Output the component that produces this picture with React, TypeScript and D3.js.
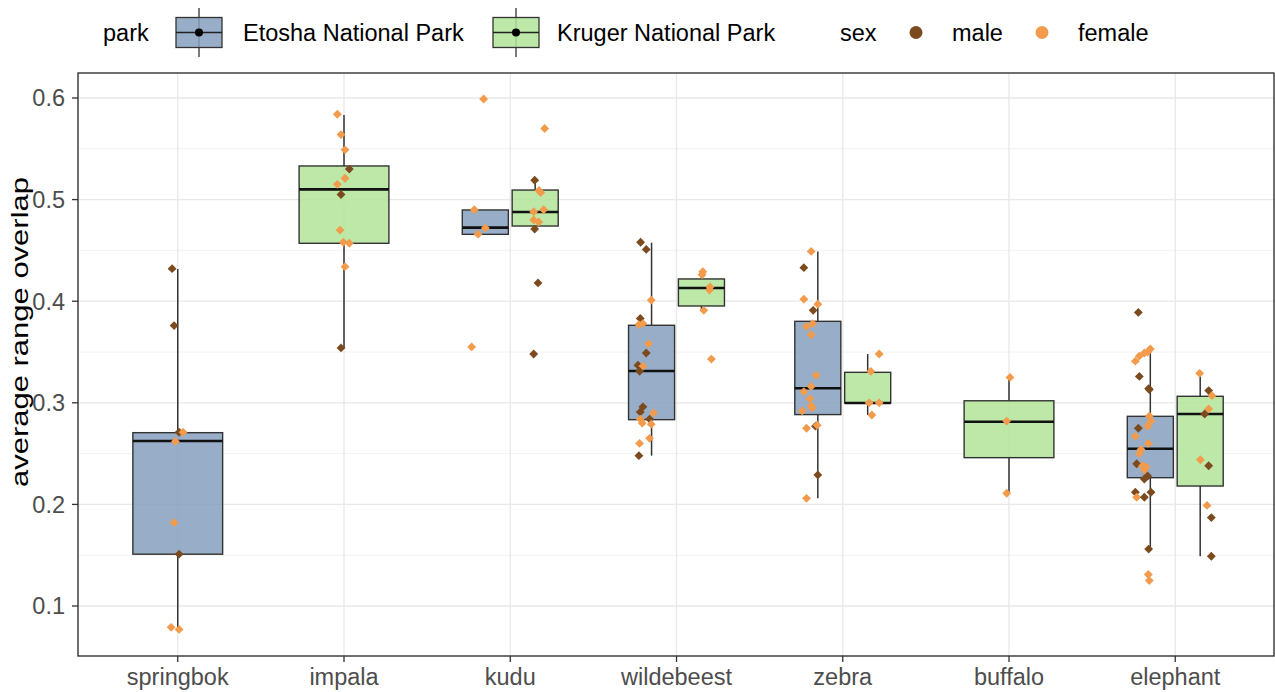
import React, { useEffect, useRef } from 'react';
import * as d3 from 'd3';

const species = ['springbok', 'impala', 'kudu', 'wildebeest', 'zebra', 'buffalo', 'elephant'];
const parks = ['Etosha National Park', 'Kruger National Park'];
const sexes = ['male', 'female'];
const yTicks = [0.1, 0.2, 0.3, 0.4, 0.5, 0.6];

// box summaries (park: 0 = Etosha, 1 = Kruger)
const boxSpecies = ['springbok', 'impala', 'kudu', 'kudu', 'wildebeest', 'wildebeest', 'zebra', 'zebra', 'buffalo', 'elephant', 'elephant'];
const boxPark = [0, 1, 0, 1, 0, 1, 0, 1, 1, 0, 1];
const boxLow = [0.077, 0.354, 0.4658, 0.471, 0.248, 0.391, 0.206, 0.288, 0.211, 0.156, 0.149];
const boxQ1 = [0.151, 0.457, 0.4658, 0.474, 0.2834, 0.3953, 0.2884, 0.2998, 0.246, 0.2263, 0.2181];
const boxMed = [0.2624, 0.5101, 0.4724, 0.4878, 0.3313, 0.413, 0.3143, 0.2998, 0.2814, 0.2548, 0.289];
const boxQ3 = [0.2706, 0.5331, 0.4898, 0.5094, 0.3763, 0.4219, 0.3802, 0.33, 0.302, 0.2867, 0.3064];
const boxHigh = [0.4317, 0.5833, 0.4898, 0.5193, 0.4576, 0.428, 0.4488, 0.348, 0.325, 0.352, 0.329];

// individual animals: [overlap, sex (0 male / 1 female), jitter in category steps]
type Pt = [number, number, number];
const springbokEtosha: Pt[] = [
  [0.432, 0, -0.034], [0.376, 0, -0.022], [0.271, 0, 0.008], [0.271, 1, 0.032], [0.262, 1, -0.014],
  [0.182, 1, -0.022], [0.151, 0, 0.008], [0.079, 1, -0.04], [0.077, 1, 0.008],
];
const impalaKruger: Pt[] = [
  [0.584, 1, -0.04], [0.564, 1, -0.018], [0.549, 1, 0.006], [0.530, 0, 0.032], [0.521, 1, 0.006],
  [0.515, 1, -0.04], [0.505, 0, -0.018], [0.470, 1, -0.024], [0.458, 1, -0.004], [0.457, 1, 0.032],
  [0.434, 1, 0.006], [0.354, 0, -0.018],
];
const kuduEtosha: Pt[] = [
  [0.599, 1, -0.01], [0.490, 1, -0.066], [0.472, 1, 0], [0.466, 1, -0.044], [0.355, 1, -0.082],
];
const kuduKruger: Pt[] = [
  [0.570, 1, 0.057], [0.519, 0, -0.003], [0.509, 1, 0.023], [0.507, 1, 0.033], [0.488, 1, -0.009],
  [0.490, 1, 0.051], [0.480, 1, -0.009], [0.478, 1, 0.021], [0.471, 0, -0.003], [0.418, 0, 0.017],
  [0.348, 0, -0.009],
];
const wildebeestEtosha: Pt[] = [
  [0.458, 0, -0.066], [0.451, 0, -0.032], [0.401, 1, -0.002], [0.383, 0, -0.068], [0.377, 1, -0.076],
  [0.378, 1, -0.052], [0.358, 1, -0.018], [0.349, 0, -0.032], [0.337, 0, -0.082], [0.336, 1, -0.052],
  [0.331, 0, -0.072], [0.296, 0, -0.052], [0.291, 0, -0.068], [0.290, 1, 0.012], [0.284, 1, -0.068],
  [0.284, 0, -0.012], [0.280, 1, -0.056], [0.279, 1, -0.002], [0.260, 1, -0.072], [0.265, 1, -0.012],
  [0.248, 0, -0.076],
];
const wildebeestKruger: Pt[] = [
  [0.429, 1, 0.008], [0.426, 1, 0.004], [0.414, 1, 0.052], [0.411, 1, 0.048], [0.391, 1, 0.014],
  [0.343, 1, 0.06],
];
const zebraEtosha: Pt[] = [
  [0.449, 1, -0.04], [0.433, 0, -0.084], [0.402, 1, -0.084], [0.397, 1, 0], [0.391, 0, -0.028],
  [0.378, 1, -0.03], [0.375, 1, -0.068], [0.367, 1, -0.04], [0.327, 1, -0.01], [0.316, 1, -0.04],
  [0.311, 1, -0.084], [0.304, 1, -0.048], [0.297, 1, -0.04], [0.295, 1, -0.034], [0.292, 1, -0.094],
  [0.275, 1, -0.068], [0.277, 0, -0.014], [0.278, 1, -0.004], [0.229, 0, 0], [0.206, 1, -0.068],
];
const zebraKruger: Pt[] = [
  [0.348, 1, 0.069], [0.331, 1, 0.019], [0.300, 1, 0.009], [0.300, 1, 0.069], [0.288, 1, 0.025],
];
const buffaloKruger: Pt[] = [
  [0.325, 1, 0.006], [0.282, 1, -0.014], [0.211, 1, -0.014],
];
const elephantEtosha: Pt[] = [
  [0.389, 0, -0.072], [0.353, 1, 0], [0.350, 1, -0.016], [0.349, 1, -0.036], [0.346, 1, -0.066],
  [0.341, 1, -0.09], [0.326, 0, -0.066], [0.314, 0, -0.01], [0.313, 0, -0.006], [0.287, 1, -0.006],
  [0.282, 1, 0.004], [0.277, 1, -0.016], [0.275, 0, -0.072], [0.267, 1, -0.09], [0.260, 1, -0.012],
  [0.254, 1, -0.056], [0.250, 1, -0.066], [0.240, 0, -0.082], [0.238, 1, -0.046], [0.237, 1, -0.026],
  [0.234, 1, -0.036], [0.228, 0, -0.016], [0.225, 0, -0.036], [0.212, 0, -0.09], [0.207, 1, -0.082],
  [0.207, 0, -0.036], [0.212, 0, 0.004], [0.156, 0, -0.01], [0.131, 1, -0.012], [0.125, 1, -0.006],
];
const elephantKruger: Pt[] = [
  [0.329, 1, -0.003], [0.312, 0, 0.051], [0.307, 1, 0.071], [0.294, 1, 0.051], [0.289, 0, 0.027],
  [0.244, 1, 0.001], [0.238, 0, 0.051], [0.199, 1, 0.041], [0.187, 0, 0.067], [0.149, 0, 0.067],
];

const pointGroups: { sp: string; park: number; pts: Pt[] }[] = [
  { sp: 'springbok', park: 0, pts: springbokEtosha },
  { sp: 'impala', park: 1, pts: impalaKruger },
  { sp: 'kudu', park: 0, pts: kuduEtosha },
  { sp: 'kudu', park: 1, pts: kuduKruger },
  { sp: 'wildebeest', park: 0, pts: wildebeestEtosha },
  { sp: 'wildebeest', park: 1, pts: wildebeestKruger },
  { sp: 'zebra', park: 0, pts: zebraEtosha },
  { sp: 'zebra', park: 1, pts: zebraKruger },
  { sp: 'buffalo', park: 1, pts: buffaloKruger },
  { sp: 'elephant', park: 0, pts: elephantEtosha },
  { sp: 'elephant', park: 1, pts: elephantKruger },
];

const parkFill = ['#86a0be', '#b1e498'];
const sexColor = ['#7b4a1e', '#f29b4c'];
const FONT = '"Liberation Sans", Arial, sans-serif';

const App: React.FC = () => {
  const svgRef = useRef<SVGSVGElement>(null);
  const width = 1275;
  const height = 692;

  useEffect(() => {
    document.body.style.margin = '0';
    if (!svgRef.current) return;
    const svg = d3.select(svgRef.current);
    svg.selectAll('*').remove();

    const left = 78, right = 1274, top = 73, bottom = 656;

    const x = d3.scalePoint<string>().domain(species).range([left, 1275]).padding(0.6);
    const y = d3.scaleLinear().domain([0.0508, 0.6246]).range([bottom, top]);
    const step = x.step();

    // how many parks per species, to dodge the boxes
    const nPerSpecies = d3.rollup(boxSpecies, v => v.length, d => d);
    const groupCenter = (sp: string, park: number) => {
      const n = nPerSpecies.get(sp) || 1;
      const off = n === 1 ? 0 : (park === 0 ? -0.15 : 0.15);
      return (x(sp) || 0) + off * step;
    };
    const boxWidth = (sp: string) => ((nPerSpecies.get(sp) || 1) === 1 ? 0.54 : 0.277) * step;

    // grid
    const grid = svg.append('g');
    const minor = d3.range(0.05, 0.65, 0.1).filter(v => v > 0.0508 && v < 0.6246);
    grid.selectAll('.minor').data(minor).enter().append('line')
      .attr('x1', left).attr('x2', right)
      .attr('y1', d => y(d)).attr('y2', d => y(d))
      .attr('stroke', '#f0f0f0').attr('stroke-width', 0.9);
    grid.selectAll('.major').data(yTicks).enter().append('line')
      .attr('x1', left).attr('x2', right)
      .attr('y1', d => y(d)).attr('y2', d => y(d))
      .attr('stroke', '#e8e8e8').attr('stroke-width', 1.3);
    grid.selectAll('.vert').data(species).enter().append('line')
      .attr('x1', d => x(d) || 0).attr('x2', d => x(d) || 0)
      .attr('y1', top).attr('y2', bottom)
      .attr('stroke', '#e8e8e8').attr('stroke-width', 1.3);

    // boxes
    const boxes = svg.append('g');
    boxSpecies.forEach((sp, i) => {
      const cx = groupCenter(sp, boxPark[i]);
      const w = boxWidth(sp);
      boxes.append('line')
        .attr('x1', cx).attr('x2', cx)
        .attr('y1', y(boxQ3[i])).attr('y2', y(boxHigh[i]))
        .attr('stroke', '#333').attr('stroke-width', 1.5);
      boxes.append('line')
        .attr('x1', cx).attr('x2', cx)
        .attr('y1', y(boxQ1[i])).attr('y2', y(boxLow[i]))
        .attr('stroke', '#333').attr('stroke-width', 1.5);
      boxes.append('rect')
        .attr('x', cx - w / 2).attr('width', w)
        .attr('y', y(boxQ3[i])).attr('height', y(boxQ1[i]) - y(boxQ3[i]))
        .attr('fill', parkFill[boxPark[i]]).attr('fill-opacity', 0.85)
        .attr('stroke', '#333').attr('stroke-width', 1.4);
      boxes.append('line')
        .attr('x1', cx - w / 2).attr('x2', cx + w / 2)
        .attr('y1', y(boxMed[i])).attr('y2', y(boxMed[i]))
        .attr('stroke', '#111').attr('stroke-width', 2.6);
    });

    // jittered points
    const diamond = d3.symbol(d3.symbolDiamond2, 50);
    const pts = svg.append('g');
    pointGroups.forEach(g => {
      const cx = groupCenter(g.sp, g.park);
      pts.selectAll(null).data(g.pts).enter().append('path')
        .attr('d', diamond)
        .attr('transform', d => `translate(${cx + d[2] * step},${y(d[0])})`)
        .attr('fill', d => sexColor[d[1]]);
    });

    // panel border
    svg.append('rect')
      .attr('x', left).attr('y', top)
      .attr('width', right - left).attr('height', bottom - top)
      .attr('fill', 'none').attr('stroke', '#333').attr('stroke-width', 1.4);

    // y axis
    const ya = svg.append('g');
    ya.selectAll('line').data(yTicks).enter().append('line')
      .attr('x1', left - 6).attr('x2', left)
      .attr('y1', d => y(d)).attr('y2', d => y(d))
      .attr('stroke', '#333').attr('stroke-width', 1.3);
    ya.selectAll('text').data(yTicks).enter().append('text')
      .attr('x', left - 13).attr('y', d => y(d)).attr('dy', '0.36em')
      .attr('text-anchor', 'end')
      .style('font-family', FONT).style('font-size', '23.5px').attr('fill', '#4d4d4d')
      .text(d => d.toFixed(1));
    svg.append('text')
      .attr('transform', `translate(28,332) rotate(-90)`)
      .attr('text-anchor', 'middle')
      .attr('textLength', 310).attr('lengthAdjust', 'spacingAndGlyphs')
      .style('font-family', FONT).style('font-size', '24px').attr('fill', '#000')
      .text('average range overlap');

    // x axis
    const xa = svg.append('g');
    xa.selectAll('line').data(species).enter().append('line')
      .attr('x1', d => x(d) || 0).attr('x2', d => x(d) || 0)
      .attr('y1', bottom).attr('y2', bottom + 6)
      .attr('stroke', '#333').attr('stroke-width', 1.3);
    xa.selectAll('text').data(species).enter().append('text')
      .attr('x', d => x(d) || 0).attr('y', 685)
      .attr('text-anchor', 'middle')
      .style('font-family', FONT).style('font-size', '23.5px').attr('fill', '#4d4d4d')
      .text(d => d);

    // legend
    const lg = svg.append('g').style('font-family', FONT).style('font-size', '23.5px');
    const ly = 33;
    lg.append('text').attr('x', 103).attr('y', ly).attr('dy', '0.36em').text('park');
    const keyX = [176, 493];
    const labelX = [243, 557];
    parks.forEach((p, i) => {
      const kx = keyX[i];
      const kc = kx + 23;
      lg.append('line').attr('x1', kc).attr('x2', kc).attr('y1', 8).attr('y2', 57)
        .attr('stroke', '#333').attr('stroke-width', 1.3);
      lg.append('rect').attr('x', kx).attr('y', 17.5).attr('width', 46).attr('height', 30)
        .attr('fill', parkFill[i]).attr('fill-opacity', 0.85)
        .attr('stroke', '#333').attr('stroke-width', 1.3);
      lg.append('line').attr('x1', kx).attr('x2', kx + 46).attr('y1', 32.5).attr('y2', 32.5)
        .attr('stroke', '#222').attr('stroke-width', 1.5);
      lg.append('circle').attr('cx', kc).attr('cy', 32.5).attr('r', 4).attr('fill', '#000');
      lg.append('text').attr('x', labelX[i]).attr('y', ly).attr('dy', '0.36em').text(p);
    });
    lg.append('text').attr('x', 840).attr('y', ly).attr('dy', '0.36em').text('sex');
    const dotX = [916, 1042];
    sexes.forEach((s, i) => {
      lg.append('circle').attr('cx', dotX[i]).attr('cy', 32.5).attr('r', 6.5).attr('fill', sexColor[i]);
      lg.append('text').attr('x', dotX[i] + 36).attr('y', ly).attr('dy', '0.36em').text(s);
    });
  }, []);

  return (
    <svg ref={svgRef} width={width} height={height} style={{ display: 'block', background: '#fff' }} />
  );
};

export default App;
